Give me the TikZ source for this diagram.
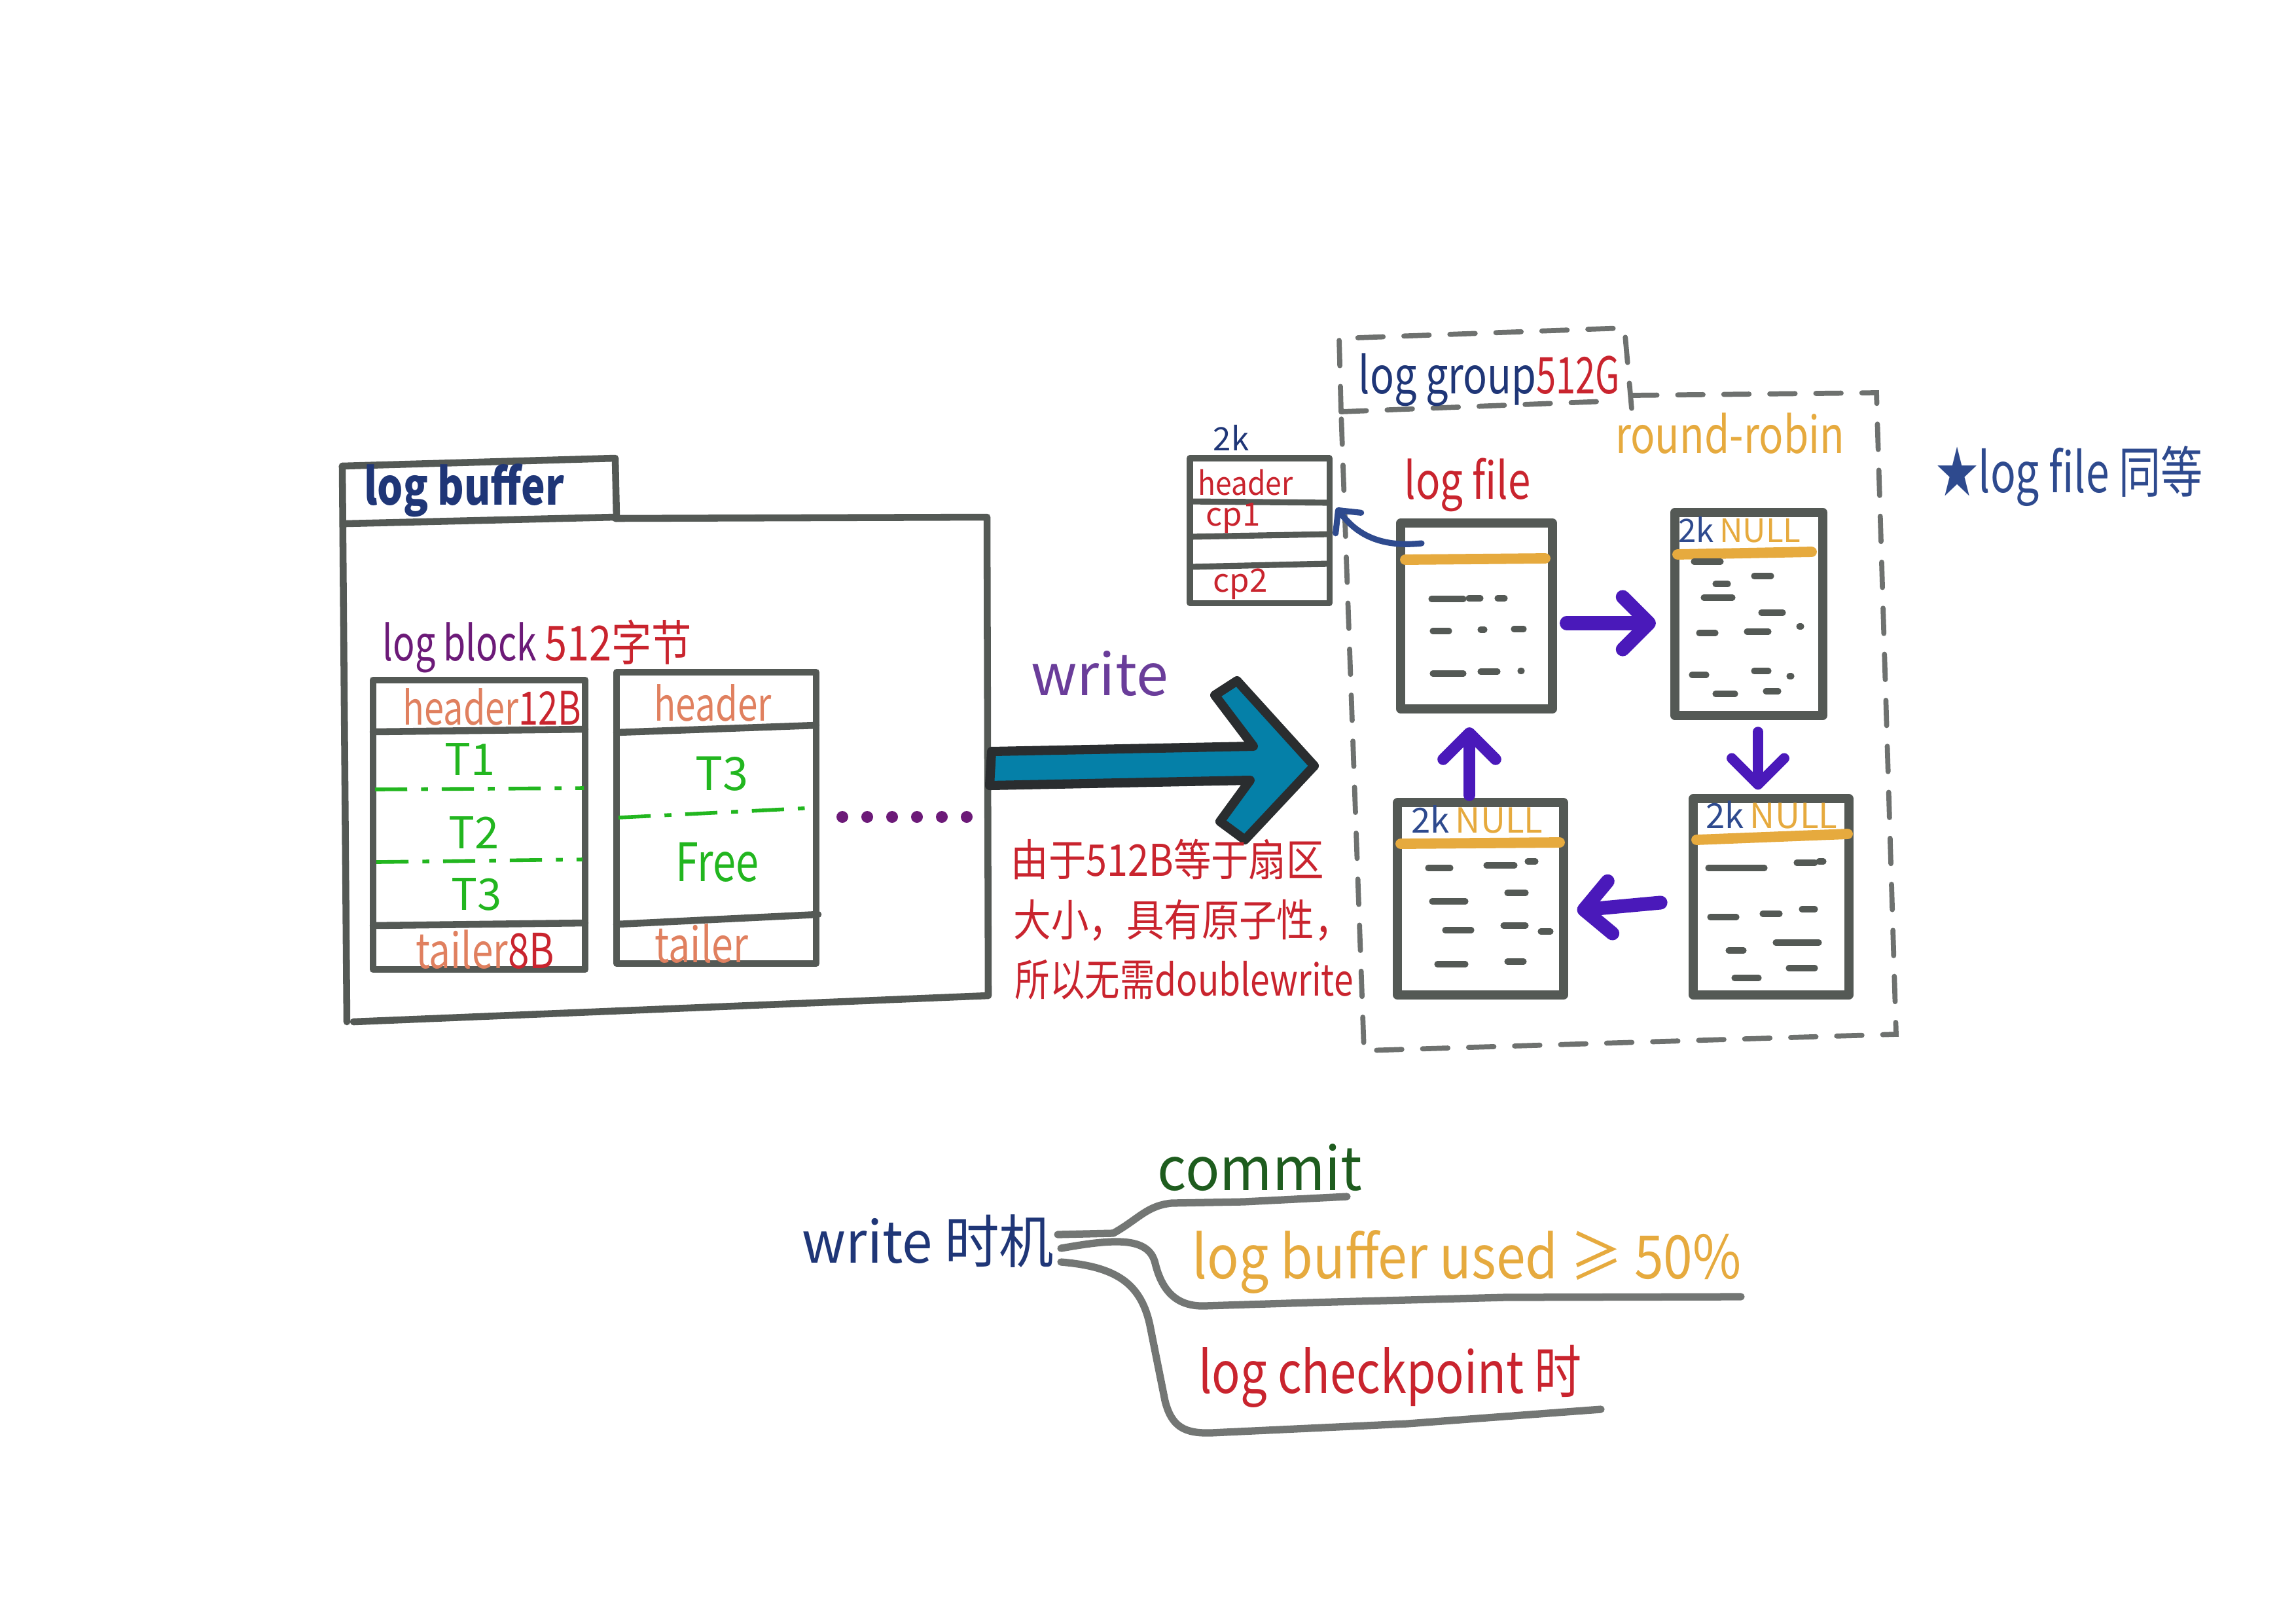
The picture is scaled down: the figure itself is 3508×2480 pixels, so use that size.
\documentclass[tikz,border=0pt]{standalone}
\usepackage{fontspec}
\setmainfont{Noto Sans CJK SC}
\usetikzlibrary{arrows.meta,calc}
\newcommand\fsz[1]{\fontsize{#1}{#1}\selectfont}
\newcommand\nar[2]{\scalebox{#1}[1]{#2}}
\definecolor{pen}{HTML}{545955}
\definecolor{navy}{HTML}{1F3677}
\definecolor{navyb}{HTML}{2E4A8E}
\definecolor{plum}{HTML}{6C1A78}
\definecolor{wpurple}{HTML}{6A3D9A}
\definecolor{rred}{HTML}{C9242E}
\definecolor{salmon}{HTML}{E0805F}
\definecolor{tgreen}{HTML}{22B61F}
\definecolor{teal}{HTML}{0580A8}
\definecolor{arrowink}{HTML}{2A2D2F}
\definecolor{gold}{HTML}{E6AA3E}
\definecolor{violet}{HTML}{4A19BA}
\definecolor{dgreen}{HTML}{1E5C1E}
\definecolor{dashgray}{HTML}{6E716F}
\definecolor{linegray}{HTML}{737674}
\begin{document}
\begin{tikzpicture}[x=0.01cm,y=-0.01cm,
  pen/.style={draw=pen,line width=3pt,line cap=round,line join=round},
  thickpen/.style={draw=pen,line width=4pt,line cap=round,line join=round},
  txt/.style={inner sep=0pt,anchor=center},
  gdash/.style={draw=tgreen,line width=1.6pt,dash pattern=on 14pt off 6pt on 3pt off 6pt},
  grp/.style={draw=dashgray,line width=2.2pt,dash pattern=on 11pt off 9pt,line cap=round},
  goldline/.style={draw=gold,line width=4.5pt,line cap=round},
  ink/.style={draw=pen,line width=2.6pt,line cap=round},
  varrow/.style={draw=violet,line width=6pt,line cap=round,-{Straight Barb[length=4mm,width=8mm,round]}},
  tree/.style={draw=linegray,line width=3.2pt,line cap=round,line join=round},
  filebox/.style={thickpen,inner sep=0pt,minimum width=#1},
]
\useasboundingbox (0,0) rectangle (3508,2480);

% ---------------- log buffer ----------------
\draw[pen] (523,712) -- (940,700) -- (942,792);
\draw[pen] (528,800) -- (940,790);
\draw[pen] (523,712) -- (530,1561);
\draw[pen] (940,792) -- (1508,790) -- (1510,1521) -- (540,1561);
\node[txt] (lbuf) at (709,749) {\fsz{22}\bfseries\color{navy}\nar{0.8}{log buffer}};

\node[txt,anchor=west] (lblock) at (584,987) {\fsz{21}{\color{plum}\nar{0.75}{log block}}\,{\color{rred}\nar{0.83}{512字节}}};

% block 1
\node[pen,inner sep=0pt,minimum width=3.24cm,minimum height=4.42cm] (b1) at (732,1260) {};
\draw[pen] (570,1118) -- (894,1114);
\draw[gdash] (573,1206) -- (892,1204);
\draw[gdash] (575,1317) -- (890,1313);
\draw[pen] (570,1414) -- (894,1410);
\node[txt] (b1h) at (752,1080) {\fsz{20}\nar{0.77}{\color{salmon}header\color{rred}12B}};
\node[txt] (b1t1) at (718,1160) {\fsz{19}\color{tgreen}T1};
\node[txt] (b1t2) at (724,1272) {\fsz{19}\color{tgreen}T2};
\node[txt] (b1t3) at (728,1366) {\fsz{19}\color{tgreen}T3};
\node[txt] (b1tl) at (741,1451) {\fsz{21}\nar{0.79}{\color{salmon}tailer\color{rred}8B}};

% block 2
\node[pen,inner sep=0pt,minimum width=3.05cm,minimum height=4.45cm] (b2) at (1094.5,1249.5) {};
\draw[pen] (942,1119) -- (1247,1108);
\draw[gdash] (945,1249) -- (1245,1234);
\draw[pen] (942,1412) -- (1250,1397);
\node[txt] (b2h) at (1089,1074) {\fsz{20}\color{salmon}\nar{0.78}{header}};
\node[txt] (b2t3) at (1103,1182) {\fsz{20}\color{tgreen}T3};
\node[txt] (b2free) at (1096,1317) {\fsz{23}\color{tgreen}\nar{0.78}{Free}};
\node[txt] (b2tl) at (1072,1442) {\fsz{21}\color{salmon}\nar{0.8}{tailer}};

\foreach \x in {1287,1325,1363,1401,1439,1477}
  \fill[plum] (\x,1248) circle[radius=9];

% ---------------- write arrow ----------------
\node[txt] (wr) at (1680,1029) {\fsz{25}\color{wpurple}write};
\draw[draw=arrowink,fill=teal,line width=4pt,line join=round]
  (1515,1148) -- (1915,1140) -- (1856,1062) -- (1890,1040) -- (2008,1170)
  -- (1902,1283) -- (1864,1255) -- (1910,1192) -- (1512,1200) -- cycle;

\node[txt,anchor=west] (n1) at (1544,1313) {\fsz{19}\color{rred}\nar{0.86}{由于512B等于扇区}};
\node[txt,anchor=west] (n2) at (1548,1406) {\fsz{19}\color{rred}\nar{0.86}{大小，具有原子性，}};
\node[txt,anchor=west] (n3) at (1550,1497) {\fsz{19}\color{rred}\nar{0.8}{所以无需doublewrite}};

% ---------------- log group ----------------
\draw[grp] (2049,629) -- (2046,517) -- (2482,501) -- (2493,625);
\draw[grp] (2049,629) -- (2453,613);
\draw[grp] (2493,604) -- (2867,600) -- (2897,1580) -- (2084,1605) -- (2049,629);
\node[txt,anchor=west] (lg) at (2075,580) {\fsz{22}{\color{navy}\nar{0.79}{log group}}{\color{rred}\nar{0.7}{512G}}};
\node[txt] (rr) at (2643,662) {\fsz{22}\color{gold}\nar{0.8}{round-robin}};

% checkpoint box
\node[txt] (twok) at (1881,669) {\fsz{14}\color{navy}2k};
\node[pen,line width=2.6pt,inner sep=0pt,minimum width=2.13cm,minimum height=2.21cm] (cpbox) at (1924.5,810.5) {};
\draw[pen,line width=2.6pt] (1818,766) -- (2031,768);
\draw[pen,line width=2.6pt] (1818,820) -- (2031,816);
\draw[pen,line width=2.6pt] (1818,866) -- (2031,861);
\node[txt] (cph) at (1903,737) {\fsz{14}\color{rred}\nar{0.9}{header}};
\node[txt] (cp1) at (1884,792) {\fsz{14}\color{rred}cp1};
\node[txt] (cp2) at (1895,892) {\fsz{14}\color{rred}cp2};

\node[txt] (lf) at (2242,741) {\fsz{22}\color{rred}\nar{0.8}{log file}};

% log file boxes
\node[filebox=2.31cm,minimum height=2.84cm] (A) at (2256,941) {};
\node[filebox=2.26cm,minimum height=3.10cm] (B) at (2672,938) {};
\node[filebox=2.53cm,minimum height=2.94cm] (C) at (2262,1373) {};
\node[filebox=2.38cm,minimum height=2.99cm] (D) at (2706,1370) {};

\draw[goldline] (2147,855) -- (2361,853);
\draw[goldline] (2563,847) -- (2768,843);
\draw[goldline] (2140,1289) -- (2383,1287);
\draw[goldline] (2592,1283) -- (2823,1274);

\node[txt] (Bt) at (2658,809) {\fsz{14}{\color{navyb}2k}\,{\color{gold}NULL}};
\node[txt] (Ct) at (2257,1252) {\fsz{15}{\color{navyb}2k}\,{\color{gold}NULL}};
\node[txt] (Dt) at (2707,1245) {\fsz{15}{\color{navyb}2k}\,{\color{gold}NULL}};

% scribbled lines inside the boxes
\foreach \a/\b/\y in {2187/2236/915,2244/2262/914,2288/2299/914,
                      2189/2214/964,2262/2268/962,2313/2328/961,
                      2189/2236/1029,2262/2288/1026,2323/2325/1025}
  \draw[ink] (\a,\y) -- (\b,\y);
\foreach \a/\b/\y in {2588/2629/858,2680/2706/880,2621/2640/892,2603/2647/913,2691/2724/936,
                      2596/2621/967,2669/2702/965,2749/2752/957,2585/2607/1031,2680/2702/1025,
                      2734/2737/1033,2621/2651/1060,2698/2717/1056}
  \draw[ink] (\a,\y) -- (\b,\y);
\foreach \a/\b/\y in {2182/2216/1326,2271/2314/1322,2334/2346/1316,2303/2331/1364,2188/2239/1377,
                      2208/2248/1421,2297/2331/1414,2354/2369/1423,2196/2239/1473,2303/2328/1469}
  \draw[ink] (\a,\y) -- (\b,\y);
\foreach \a/\b/\y in {2610/2696/1326,2745/2773/1318,2779/2786/1316,2613/2653/1401,2693/2719/1396,
                      2753/2773/1389,2713/2779/1440,2641/2664/1452,2733/2773/1479,2650/2687/1494}
  \draw[ink] (\a,\y) -- (\b,\y);

% round-robin arrows
\coordinate (bs) at ($(B.south)+(14,0)$);
\coordinate (cn) at ($(C.north)+(-17,0)$);
\draw[varrow,shorten <=0.15cm,shorten >=0.22cm] (A.east |- 0,952) -- (B.west |- 0,952);
\draw[varrow,line width=4.5pt,shorten <=0.18cm,shorten >=0.07cm] (bs) -- (bs |- D.north);
\draw[varrow,shorten <=0.43cm,shorten >=0.14cm] (D.west |- 0,1375) -- (C.east |- 0,1392);
\draw[varrow,line width=5pt,shorten <=0.04cm,shorten >=0.21cm] (cn) -- (cn |- A.south);

% checkpoint pointer
\coordinate (cpsrc) at (2172,830);
\coordinate (cptgt) at ($(cpbox.north east)!0.35!(cpbox.south east)+(6,0)$);
\draw[draw=navyb,line width=2.6pt,line cap=round,-{Straight Barb[length=2.5mm,width=5mm,round]}]
  (cpsrc) .. controls (2095,838) and (2065,805) .. (cptgt);

\node[txt] (note) at (3162,727) {\fsz{24}\color{navyb}\nar{0.76}{★log file 同等}};

% ---------------- write timing ----------------
\node[txt] (wt) at (1418,1896) {\fsz{25}\color{navy}\nar{0.95}{write 时机}};
\node[txt] (cm) at (1925,1784) {\fsz{26}\color{dgreen}\nar{0.95}{commit}};
\node[txt] (lbu) at (2241,1928) {\fsz{26}\color{gold}\nar{0.88}{log buffer used ≥ 50\%}};
\node[txt] (lcp) at (2124,2103) {\fsz{25}\color{rred}\nar{0.82}{log checkpoint 时}};

\coordinate (u1) at (2058,1828);
\coordinate (u2) at (2660,1981);
\coordinate (u3) at (2446,2153);
\draw[tree] ($(wt.east)+(5,-10)$) -- (1701,1884) .. controls (1740,1862) and (1752,1842) .. (1790,1838) -- (1900,1836) -- (u1);
\draw[tree] ($(wt.east)+(10,11)$) .. controls (1700,1893) and (1755,1888) .. (1765,1930)
   .. controls (1776,1975) and (1800,1996) .. (1840,1995) -- (2000,1990) -- (2300,1982) -- (u2);
\draw[tree] ($(wt.east)+(10,32)$) .. controls (1705,1935) and (1745,1960) .. (1758,2030)
   -- (1780,2140) .. controls (1790,2180) and (1810,2190) .. (1850,2189) -- (2150,2175) -- (u3);
\end{tikzpicture}
\end{document}
